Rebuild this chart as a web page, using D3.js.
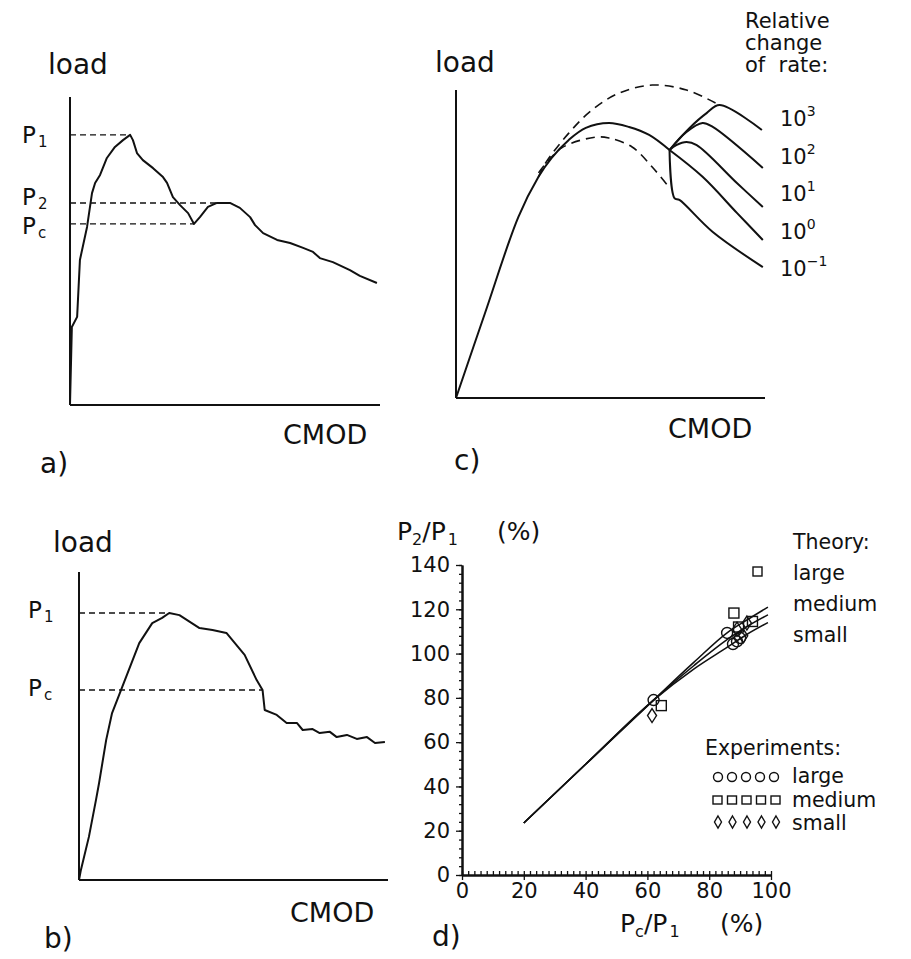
<!DOCTYPE html>
<html lang="en">
<head>
<meta charset="UTF-8">
<title>load - CMOD</title>
<script src="https://cdn.jsdelivr.net/npm/d3@7"></script>
<style>
  body { margin: 0; background: #fff; }
  text { font-family: "DejaVu Sans", sans-serif; fill: #111; }
</style>
</head>
<body>
<script>
// a) record with a load drop and a second peak (CMOD, load in % of frame)
const curveA = [[0,0],[0.6,25.3],[2.3,28.6],[3.2,47.1],[5.5,57.8],[7.1,68.8],[8.1,72.1],[9.7,74.7],
  [11.9,80.2],[14.5,83.8],[17.1,86.0],[19.4,87.7],[20.3,86.0],[21.6,81.8],[23.5,79.5],[26.8,76.9],
  [30.0,74.0],[31.3,72.1],[33.2,67.5],[35.5,64.9],[38.1,62.3],[40.0,58.8],[41.9,61.0],[44.5,64.3],
  [47.4,65.6],[51.6,65.6],[54.8,64.0],[58.1,61.0],[59.7,58.4],[62.3,55.8],[66.8,53.6],[71.0,52.6],
  [75.2,51.0],[78.4,49.7],[80.6,47.7],[84.8,46.4],[90.3,43.8],[93.5,41.9],[99.0,39.6]];
const levelsA = [{sub: "1", x: 19.4, y: 87.7}, {sub: "2", x: 47.4, y: 65.6}, {sub: "c", x: 40.0, y: 58.8}];

// b) record with a sudden drop after the peak
const curveB = [[0,0],[0.6,3.2],[3.2,14.0],[5.5,26.0],[6.5,31.5],[8.8,45.5],[10.7,54.2],[14.0,62.7],
  [19.5,76.9],[23.7,83.4],[26.9,85.1],[29.2,86.7],[32.5,86.0],[39.0,81.8],[43.2,81.2],[47.7,80.2],
  [53.6,73.1],[57.5,64.9],[59.4,61.7],[60.1,55.2],[64.0,53.6],[67.2,51.0],[70.5,51.0],[72.4,48.7],
  [75.6,49.0],[77.9,47.7],[81.2,48.1],[83.4,46.4],[86.7,47.1],[89.9,45.8],[93.2,46.4],[95.8,44.5],[99.0,44.8]];
const levelsB = [{sub: "1", x: 29.2, y: 86.7}, {sub: "c", x: 59.4, y: 61.7}];

// c) computed curves, branching after a change of loading rate
const baseC = [[0,0],[9.4,27.6],[20.2,58.8],[26.7,71.8],[30.9,77.9],[36.5,83.8],[42.0,87.7],
  [49.5,89.3],[56.0,88.0],[62.5,85.4],[69.1,80.5]];
const rateExp = ["3", "2", "1", "0", "\u22121"];
const branchesC = [
  [[69.1,80.5],[75.6,87.7],[81.1,92.5],[85.3,95.1],[99.0,87.0]],
  [[69.1,80.5],[74.6,86.4],[79.8,89.3],[83.1,88.0],[99.3,74.7]],
  [[69.1,80.5],[71.3,82.1],[74.6,83.1],[77.9,82.1],[90.9,69.8],[99.3,62.0]],
  [[69.1,80.5],[79.8,71.8],[90.9,60.1],[99.3,51.3]],
  [[69.1,80.5],[70.7,64.9],[72.3,64.3],[83.1,53.9],[99.3,42.5]]
];
const dashUpperC = [[26.7,71.8],[29.0,76.3],[36.5,86.0],[44.0,93.5],[52.8,99.0],[63.5,101.6],[74.6,100.0],[85.3,95.1]];
const dashLowerC = [[26.7,73.1],[34.2,81.2],[45.3,84.7],[49.5,84.4],[57.0,81.5],[63.5,75.0],[69.1,68.2]];

// d) P2/P1 against Pc/P1 (%)
const xTicksD = [0, 20, 40, 60, 80, 100];
const yTicksD = [0, 20, 40, 60, 80, 100, 120, 140];
const theoryD = {
  large:  [[20,23.5],[40,50],[62,79],[75,96],[86,109.6],[92,115],[99,121]],
  medium: [[20,23.5],[40,50],[62,79],[75,94.5],[86,106.5],[92,112],[99,117.5]],
  small:  [[20,23.5],[40,50],[62,79],[75,93],[86,103],[92,108.5],[99,114]]
};
const expLarge  = [[62,79],[85.8,109.3],[87.7,104.3],[89,105.5],[90,107]];
const expMedium = [[64.5,76.5],[88,118.3],[94,114.5],[89.5,112]];
const expSmall  = [[61.5,72],[89,111],[91,108],[92.2,113.8]];
const sizeNames = ["large", "medium", "small"];

const width = 911, height = 959;
const svg = d3.select("body").append("svg")
  .attr("width", width).attr("height", height)
  .attr("viewBox", [0, 0, width, height]);
svg.append("rect").attr("width", width).attr("height", height).attr("fill", "#fff");

const ink = "#111";

// a plain frame with load / CMOD labels, used for a), b) and c)
function frame(x, y, o) {
  const g = svg.append("g");
  g.append("line").attr("x1", x(0)).attr("y1", y(0)).attr("x2", x(0)).attr("y2", y(100))
    .attr("stroke", ink).attr("stroke-width", 2);
  g.append("line").attr("x1", x(0)).attr("y1", y(0)).attr("x2", x(100)).attr("y2", y(0))
    .attr("stroke", ink).attr("stroke-width", 2);
  g.append("text").attr("x", o.loadX).attr("y", o.loadY).attr("font-size", 28).text("load");
  g.append("text").attr("x", o.cmodX).attr("y", o.cmodY).attr("font-size", 27).text("CMOD");
  g.append("text").attr("x", o.tagX).attr("y", o.tagY).attr("font-size", 28).text(o.tag);
  return g;
}

// dashed reference levels with P labels; shift = baseline offset under each level
function levels(g, x, y, lv, labelX, shift) {
  g.selectAll(null).data(lv).join("line")
    .attr("x1", x(0)).attr("x2", d => x(d.x))
    .attr("y1", d => y(d.y)).attr("y2", d => y(d.y))
    .attr("stroke", ink).attr("stroke-width", 1.4).attr("stroke-dasharray", "6 4");
  const t = g.selectAll(null).data(lv).join("text")
    .attr("x", labelX).attr("y", d => y(d.y) + shift[d.sub]).attr("font-size", 23);
  t.append("tspan").text("P");
  t.append("tspan").attr("font-size", 15).attr("dy", 4).attr("dx", 2).text(d => d.sub);
}

// ---- a)
const xA = d3.scaleLinear().domain([0, 100]).range([70, 380]);
const yA = d3.scaleLinear().domain([0, 100]).range([405, 97]);
const gA = frame(xA, yA, {loadX: 48, loadY: 74, cmodX: 283, cmodY: 444, tagX: 40, tagY: 473, tag: "a)"});
levels(gA, xA, yA, levelsA, 22, {"1": 8, "2": 2, "c": 10});
gA.append("path").attr("d", d3.line().x(d => xA(d[0])).y(d => yA(d[1]))(curveA))
  .attr("fill", "none").attr("stroke", ink).attr("stroke-width", 2).attr("stroke-linejoin", "round");

// ---- b)
const xB = d3.scaleLinear().domain([0, 100]).range([79, 388]);
const yB = d3.scaleLinear().domain([0, 100]).range([880, 572]);
const gB = frame(xB, yB, {loadX: 53, loadY: 552, cmodX: 290, cmodY: 922, tagX: 44, tagY: 948, tag: "b)"});
levels(gB, xB, yB, levelsB, 28, {"1": 5, "c": 6});
gB.append("path").attr("d", d3.line().x(d => xB(d[0])).y(d => yB(d[1]))(curveB))
  .attr("fill", "none").attr("stroke", ink).attr("stroke-width", 2).attr("stroke-linejoin", "round");

// ---- c)
const xC = d3.scaleLinear().domain([0, 100]).range([456, 765]);
const yC = d3.scaleLinear().domain([0, 100]).range([398, 90]);
const gC = frame(xC, yC, {loadX: 435, loadY: 72, cmodX: 668, cmodY: 438, tagX: 454, tagY: 470, tag: "c)"});
const smooth = d3.line().x(d => xC(d[0])).y(d => yC(d[1])).curve(d3.curveCatmullRom.alpha(0.5));
gC.append("path").attr("d", smooth(baseC))
  .attr("fill", "none").attr("stroke", ink).attr("stroke-width", 2);
gC.selectAll(null).data(branchesC).join("path").attr("d", smooth)
  .attr("fill", "none").attr("stroke", ink).attr("stroke-width", 2);
gC.selectAll(null).data([dashUpperC, dashLowerC]).join("path").attr("d", smooth)
  .attr("fill", "none").attr("stroke", ink).attr("stroke-width", 1.6).attr("stroke-dasharray", "9 6");
const rateLab = gC.selectAll(null).data(rateExp).join("text")
  .attr("x", 780).attr("y", (d, i) => 126 + i * 37.5).attr("font-size", 21);
rateLab.append("tspan").text("10");
rateLab.append("tspan").attr("font-size", 14).attr("dy", -10).text(d => d);
gC.selectAll(null).data(["Relative", "change", "of  rate:"]).join("text")
  .attr("x", 745).attr("y", (d, i) => 28 + i * 22).attr("font-size", 21)
  .attr("xml:space", "preserve").style("white-space", "pre").text(d => d);

// ---- d)
const xD = d3.scaleLinear().domain([0, 100]).range([462, 771]);
const yD = d3.scaleLinear().domain([0, 140]).range([875, 565]);
const gD = svg.append("g");

gD.append("g").attr("transform", `translate(0,${yD(0)})`)
  .call(d3.axisBottom(xD).tickValues(d3.range(0, 101, 2)).tickSize(-4).tickSizeOuter(0).tickFormat(""));
gD.append("g").attr("transform", `translate(${xD(0)},0)`)
  .call(d3.axisLeft(yD).tickValues(d3.range(0, 141, 4)).tickSize(3).tickSizeOuter(0).tickFormat(""));
gD.append("g").attr("transform", `translate(0,${yD(0)})`)
  .call(d3.axisBottom(xD).tickValues(xTicksD).tickSize(5).tickSizeOuter(0).tickPadding(3))
  .call(g => g.selectAll("text").attr("font-size", 21).attr("font-family", "DejaVu Sans").attr("fill", ink));
gD.append("g").attr("transform", `translate(${xD(0)},0)`)
  .call(d3.axisLeft(yD).tickValues(yTicksD).tickSize(6).tickSizeOuter(0).tickPadding(6))
  .call(g => g.selectAll("text").attr("font-size", 21).attr("font-family", "DejaVu Sans").attr("fill", ink));
gD.selectAll(".domain").attr("stroke", ink).attr("stroke-width", 2);
gD.selectAll(".tick line").attr("stroke", ink).attr("stroke-width", 1.3);

const lineD = d3.line().x(d => xD(d[0])).y(d => yD(d[1])).curve(d3.curveMonotoneX);
gD.selectAll(null).data(sizeNames.map(k => theoryD[k])).join("path")
  .attr("d", lineD).attr("fill", "none").attr("stroke", ink).attr("stroke-width", 1.6);

const mk = {fill: "none", stroke: ink, "stroke-width": 1.4};
function styled(sel) { Object.entries(mk).forEach(([k, v]) => sel.attr(k, v)); return sel; }
styled(gD.selectAll(null).data(expLarge).join("circle")
  .attr("cx", d => xD(d[0])).attr("cy", d => yD(d[1])).attr("r", 5.5));
styled(gD.selectAll(null).data(expMedium).join("rect")
  .attr("x", d => xD(d[0]) - 5).attr("y", d => yD(d[1]) - 5).attr("width", 10).attr("height", 10));
const diamond = (cx, cy, w, h) => `M${cx},${cy - h}L${cx + w},${cy}L${cx},${cy + h}L${cx - w},${cy}Z`;
styled(gD.selectAll(null).data(expSmall).join("path").attr("d", d => diamond(xD(d[0]), yD(d[1]), 4.5, 7)));

// axis titles
const yT = gD.append("text").attr("x", 397).attr("y", 540).attr("font-size", 25);
yT.append("tspan").text("P");
yT.append("tspan").attr("font-size", 16).attr("dy", 5).text("2");
yT.append("tspan").attr("dy", -5).text("/P");
yT.append("tspan").attr("font-size", 16).attr("dy", 5).attr("dx", 2).text("1");
yT.append("tspan").attr("dy", -5).attr("x", 497).text("(%)");
const xT = gD.append("text").attr("x", 620).attr("y", 932).attr("font-size", 25);
xT.append("tspan").text("P");
xT.append("tspan").attr("font-size", 16).attr("dy", 5).text("c");
xT.append("tspan").attr("dy", -5).text("/P");
xT.append("tspan").attr("font-size", 16).attr("dy", 5).attr("dx", 2).text("1");
xT.append("tspan").attr("dy", -5).attr("x", 720).text("(%)");
gD.append("text").attr("x", 432).attr("y", 946).attr("font-size", 28).text("d)");

// legends
gD.append("text").attr("x", 793).attr("y", 549).attr("font-size", 20.5).text("Theory:");
gD.selectAll(null).data(sizeNames).join("text")
  .attr("x", 793).attr("y", (d, i) => 580 + i * 31).attr("font-size", 20.5).text(d => d);
styled(gD.append("rect").attr("x", 753).attr("y", 567).attr("width", 9).attr("height", 9));

gD.append("text").attr("x", 705).attr("y", 755).attr("font-size", 20.5).text("Experiments:");
gD.selectAll(null).data(sizeNames).join("text")
  .attr("x", 792).attr("y", (d, i) => 783 + i * 23.5).attr("font-size", 20.5).text(d => d);
const slots = d3.range(5);
styled(gD.selectAll(null).data(slots).join("circle")
  .attr("cx", i => 718 + i * 14).attr("cy", 777).attr("r", 4.5));
styled(gD.selectAll(null).data(slots).join("rect")
  .attr("x", i => 713 + i * 14.5).attr("y", 796).attr("width", 9).attr("height", 8));
styled(gD.selectAll(null).data(slots).join("path")
  .attr("d", i => diamond(718 + i * 14.5, 822, 3.5, 6)));
</script>
</body>
</html>
